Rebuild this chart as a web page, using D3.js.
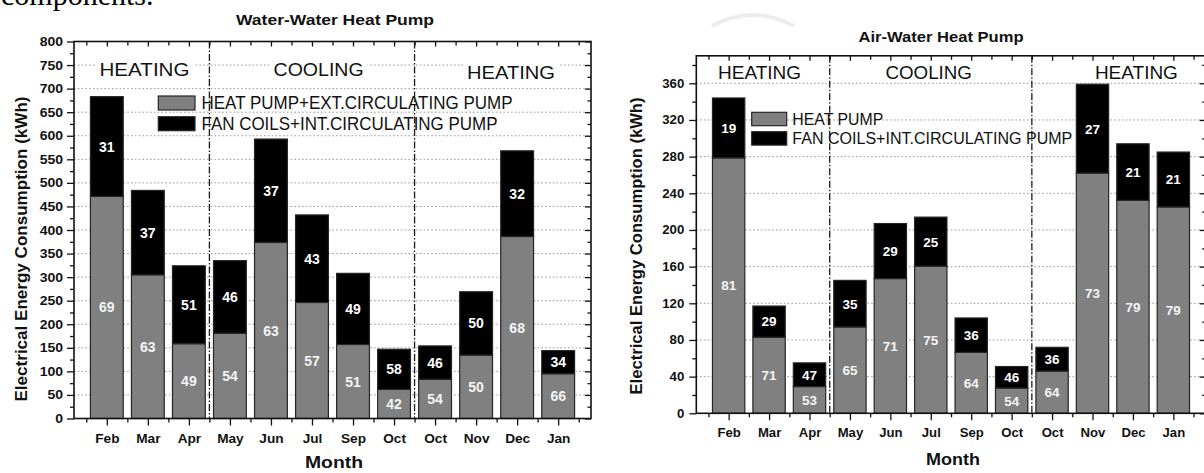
<!DOCTYPE html>
<html>
<head>
<meta charset="utf-8">
<script src="https://cdn.jsdelivr.net/npm/d3@7"></script>
<style>
  html, body { margin: 0; padding: 0; background: #fff; }
  svg { display: block; }
  text { font-family: "Liberation Sans", Arial, sans-serif; }
  text.serif { font-family: "Liberation Serif", "Times New Roman", serif; }
</style>
</head>
<body>
<svg id="fig" width="1204" height="473"></svg>
<script>
// ---- data -------------------------------------------------------------
const months = ["Feb", "Mar", "Apr", "May", "Jun", "Jul", "Sep", "Oct", "Oct", "Nov", "Dec", "Jan"];

// Water-water heat pump: monthly total (kWh) and share of each component (%)
const wwTotal = [683, 484, 324, 335, 593, 432, 308, 147, 154, 269, 568, 144];
const wwHeatPumpShare = [69, 63, 49, 54, 63, 57, 51, 42, 54, 50, 68, 66];
const wwFanCoilShare = [31, 37, 51, 46, 37, 43, 49, 58, 46, 50, 32, 34];

// Air-water heat pump: monthly total (kWh) and share of each component (%)
const awTotal = [344, 117, 55, 145, 207, 214, 104, 51, 72, 359, 294, 285];
const awHeatPumpShare = [81, 71, 53, 65, 71, 75, 64, 54, 64, 73, 79, 79];
const awFanCoilShare = [19, 29, 47, 35, 29, 25, 36, 46, 36, 27, 21, 21];

const seasons = ["HEATING", "COOLING", "HEATING"];
const seasonBreaks = [3.5, 8.5];

const wwYTicks = [0, 50, 100, 150, 200, 250, 300, 350, 400, 450, 500, 550, 600, 650, 700, 750, 800];
const awYTicks = [0, 40, 80, 120, 160, 200, 240, 280, 320, 360];

const wwLegend = ["HEAT PUMP+EXT.CIRCULATING PUMP", "FAN COILS+INT.CIRCULATING PUMP"];
const awLegend = ["HEAT PUMP", "FAN COILS+INT.CIRCULATING PUMP"];

const yAxisTitle = "Electrical Energy Consumption (kWh)";
const xAxisTitle = "Month";

// ---- layout -----------------------------------------------------------
const GRAY = "#808080";
const INK = "#111";

const svg = d3.select("#fig");

// horizontal stretch of a text element, either to a width or by a factor
function fitWidth(sel, width) {
  sel.attr("textLength", width).attr("lengthAdjust", "spacingAndGlyphs");
}
function stretch(sel, factor) {
  sel.each(function () {
    const n = this.getComputedTextLength();
    this.setAttribute("textLength", n * factor);
    this.setAttribute("lengthAdjust", "spacingAndGlyphs");
  });
}

function drawChart(cfg, totals, hpShare, fcShare, legendLabels, yTicks) {
  const g = svg.append("g");
  const x = d3.scaleLinear().domain([0.2, 12.8]).range([cfg.x0, cfg.x1]);
  const y = d3.scaleLinear().domain([0, cfg.yMax]).range([cfg.yBase, cfg.yTop]);
  const step = x(2) - x(1);
  const bw = step * 0.8;

  // dotted horizontal grid
  g.append("g").selectAll("line")
    .data(yTicks.filter(v => v > 0 && v < cfg.yMax))
    .join("line")
    .attr("x1", cfg.x0).attr("x2", cfg.x1)
    .attr("y1", d => y(d)).attr("y2", d => y(d))
    .attr("stroke", "#9a9a9a").attr("stroke-width", 1)
    .attr("stroke-dasharray", "1.6,2.2");

  // stacked bars
  const rows = months.map((m, i) => ({
    pos: i + 1,
    total: totals[i],
    hp: totals[i] * hpShare[i] / 100,
    hpPct: hpShare[i],
    fcPct: fcShare[i]
  }));

  const bars = g.append("g");
  bars.selectAll("rect.hp").data(rows).join("rect")
    .attr("class", "hp")
    .attr("x", d => x(d.pos) - bw / 2).attr("width", bw)
    .attr("y", d => y(d.hp)).attr("height", d => y(0) - y(d.hp))
    .attr("fill", GRAY).attr("stroke", "#262626").attr("stroke-width", 1.2);
  bars.selectAll("rect.fc").data(rows).join("rect")
    .attr("class", "fc")
    .attr("x", d => x(d.pos) - bw / 2).attr("width", bw)
    .attr("y", d => y(d.total)).attr("height", d => y(d.hp) - y(d.total))
    .attr("fill", "#000").attr("stroke", "#262626").attr("stroke-width", 1.2);

  bars.selectAll("text.fcl").data(rows).join("text")
    .attr("class", "fcl")
    .attr("x", d => x(d.pos)).attr("y", d => (y(d.total) + y(d.hp)) / 2)
    .attr("dy", "0.36em").attr("text-anchor", "middle")
    .attr("font-size", cfg.valueSize).attr("font-weight", "bold").attr("fill", "#fff")
    .text(d => d.fcPct);
  bars.selectAll("text.hpl").data(rows).join("text")
    .attr("class", "hpl")
    .attr("x", d => x(d.pos)).attr("y", d => (y(d.hp) + y(0)) / 2)
    .attr("dy", "0.36em").attr("text-anchor", "middle")
    .attr("font-size", cfg.valueSize).attr("font-weight", "bold").attr("fill", "#f4f4f4")
    .text(d => d.hpPct);

  // season captions on a white backing
  const sg = g.append("g");
  seasons.forEach((s, i) => {
    const p = cfg.seasonPos[i];
    sg.append("rect")
      .attr("x", p.cx - p.w / 2 - 4).attr("y", p.cy - 9)
      .attr("width", p.w + 8).attr("height", 18).attr("fill", "#fff");
    const t = sg.append("text")
      .attr("x", p.cx).attr("y", p.cy).attr("dy", "0.36em")
      .attr("text-anchor", "middle").attr("font-size", 18).attr("fill", INK)
      .text(s);
    fitWidth(t, p.w);
  });

  // legend
  const L = cfg.legend;
  const lg = g.append("g");
  [GRAY, "#000"].forEach((c, i) => {
    lg.append("rect")
      .attr("x", L.x).attr("y", L.boxY[i]).attr("width", L.w).attr("height", L.h)
      .attr("fill", c).attr("stroke", "#262626").attr("stroke-width", 1.2);
    const t = lg.append("text")
      .attr("x", L.tx).attr("y", L.ty[i]).attr("dy", "0.36em")
      .attr("font-size", L.size).attr("fill", INK)
      .text(legendLabels[i]);
    fitWidth(t, L.tw[i]);
  });

  // season dividers (dash-dot)
  g.append("g").selectAll("line")
    .data(seasonBreaks).join("line")
    .attr("x1", d => x(d)).attr("x2", d => x(d))
    .attr("y1", cfg.yTop).attr("y2", cfg.yBase)
    .attr("stroke", "#1a1a1a").attr("stroke-width", 1.3)
    .attr("stroke-dasharray", "7,2,1.5,2");

  // axes
  const majorX = months.map((m, i) => i + 1);
  const minorX = d3.range(0.5, 13, 1);
  const minorY = [];
  for (let v = cfg.yMinor; v <= cfg.yMax; v += cfg.yMinor) {
    if (!yTicks.includes(v)) minorY.push(v);
  }

  function styleAxis(a) {
    a.select(".domain").remove();
    a.selectAll("line").attr("stroke", INK).attr("stroke-width", 1.3);
  }

  // left
  const ax = g.append("g").attr("transform", `translate(${cfg.x0},0)`)
    .call(d3.axisLeft(y).tickValues(yTicks).tickSize(7).tickPadding(cfg.yPad));
  styleAxis(ax);
  ax.selectAll("text").attr("font-size", cfg.yTickSize).attr("font-weight", "bold")
    .attr("fill", INK).attr("font-family", null);
  stretch(ax.selectAll("text"), cfg.yTickStretch);
  const axm = g.append("g").attr("transform", `translate(${cfg.x0},0)`)
    .call(d3.axisLeft(y).tickValues(minorY).tickSize(4).tickFormat(""));
  styleAxis(axm);

  // right mirror, ticks inward
  const ar = g.append("g").attr("transform", `translate(${cfg.x1},0)`)
    .call(d3.axisLeft(y).tickValues(yTicks).tickSize(6).tickFormat(""));
  styleAxis(ar);
  const arm = g.append("g").attr("transform", `translate(${cfg.x1},0)`)
    .call(d3.axisLeft(y).tickValues(minorY).tickSize(3.5).tickFormat(""));
  styleAxis(arm);

  // bottom
  const ab = g.append("g").attr("transform", `translate(0,${cfg.yBase})`)
    .call(d3.axisBottom(x).tickValues(majorX).tickSize(7).tickFormat(d => months[d - 1]));
  styleAxis(ab);
  ab.selectAll("text").attr("y", cfg.xLabelY - cfg.yBase).attr("dy", "0.36em")
    .attr("font-size", cfg.xTickSize).attr("font-weight", "bold").attr("fill", INK)
    .attr("font-family", null);
  stretch(ab.selectAll("text"), cfg.xTickStretch);
  const abm = g.append("g").attr("transform", `translate(0,${cfg.yBase})`)
    .call(d3.axisBottom(x).tickValues(minorX).tickSize(4).tickFormat(""));
  styleAxis(abm);

  // top mirror, ticks inward
  const at = g.append("g").attr("transform", `translate(0,${cfg.yTop})`)
    .call(d3.axisBottom(x).tickValues(majorX).tickSize(5).tickFormat(""));
  styleAxis(at);
  const atm = g.append("g").attr("transform", `translate(0,${cfg.yTop})`)
    .call(d3.axisBottom(x).tickValues(minorX).tickSize(4).tickFormat(""));
  styleAxis(atm);

  // frame
  g.append("rect")
    .attr("x", cfg.x0).attr("y", cfg.yTop)
    .attr("width", cfg.x1 - cfg.x0).attr("height", cfg.yBase - cfg.yTop)
    .attr("fill", "none").attr("stroke", INK).attr("stroke-width", 1.6);

  // titles
  const tt = g.append("text")
    .attr("x", cfg.title.cx).attr("y", cfg.title.cy).attr("dy", "0.36em")
    .attr("text-anchor", "middle").attr("font-size", cfg.title.size)
    .attr("font-weight", "bold").attr("fill", INK).text(cfg.title.text);
  fitWidth(tt, cfg.title.w);

  const mt = g.append("text")
    .attr("x", cfg.month.cx).attr("y", cfg.month.cy).attr("dy", "0.36em")
    .attr("text-anchor", "middle").attr("font-size", cfg.month.size)
    .attr("font-weight", "bold").attr("fill", INK).text(xAxisTitle);
  fitWidth(mt, cfg.month.w);

  const yt = g.append("text")
    .attr("transform", `translate(${cfg.yTitle.cx},${cfg.yTitle.cy}) rotate(-90)`)
    .attr("dy", "0.36em").attr("text-anchor", "middle")
    .attr("font-size", cfg.yTitle.size).attr("font-weight", "bold").attr("fill", INK)
    .text(yAxisTitle);
  fitWidth(yt, cfg.yTitle.len);
}

// left panel: water-water
drawChart({
  x0: 74, x1: 591, yBase: 418.5, yTop: 41.5, yMax: 800, yMinor: 25,
  yPad: 4, yTickSize: 12.5, yTickStretch: 1.12,
  xTickSize: 13, xTickStretch: 1.05, xLabelY: 438.5,
  valueSize: 14,
  seasonPos: [{cx: 144.5, cy: 70, w: 90}, {cx: 318.6, cy: 70, w: 90}, {cx: 511, cy: 73, w: 88}],
  legend: {x: 158.3, w: 36.7, h: 14, boxY: [96, 116.7], tx: 201.5, ty: [103, 123.7], tw: [311, 296], size: 18},
  title: {text: "Water-Water Heat Pump", cx: 335, cy: 19, size: 15.5, w: 198},
  month: {cx: 334, cy: 462.5, size: 16.5, w: 58},
  yTitle: {cx: 21, cy: 249, size: 17, len: 305}
}, wwTotal, wwHeatPumpShare, wwFanCoilShare, wwLegend, wwYTicks);

// right panel: air-water
drawChart({
  x0: 696.3, x1: 1205.7, yBase: 413.3, yTop: 55.8, yMax: 390, yMinor: 20,
  yPad: 5, yTickSize: 12, yTickStretch: 1.1,
  xTickSize: 12.5, xTickStretch: 1.05, xLabelY: 432.5,
  valueSize: 13.5,
  seasonPos: [{cx: 759.5, cy: 72.7, w: 83}, {cx: 928.7, cy: 72.7, w: 86.5}, {cx: 1136.4, cy: 72.7, w: 83}],
  legend: {x: 751.7, w: 35, h: 13.4, boxY: [112.3, 131.7], tx: 792.3, ty: [119, 138.3], tw: [91, 280], size: 16},
  title: {text: "Air-Water Heat Pump", cx: 941, cy: 37, size: 14.5, w: 165},
  month: {cx: 953, cy: 459, size: 16.5, w: 54},
  yTitle: {cx: 636, cy: 246, size: 16.5, len: 297}
}, awTotal, awHeatPumpShare, awFanCoilShare, awLegend, awYTicks);

// running text of the page above the figure, cut by the top edge
svg.append("text")
  .attr("class", "serif")
  .attr("x", 1).attr("y", 5)
  .attr("font-size", 30).attr("fill", "#000")
  .text("components.");

// faint arc of a page mark near the top
svg.append("path")
  .attr("d", "M712,26 Q752,4 794,26")
  .attr("fill", "none").attr("stroke", "#ececec").attr("stroke-width", 4);
</script>
</body>
</html>
